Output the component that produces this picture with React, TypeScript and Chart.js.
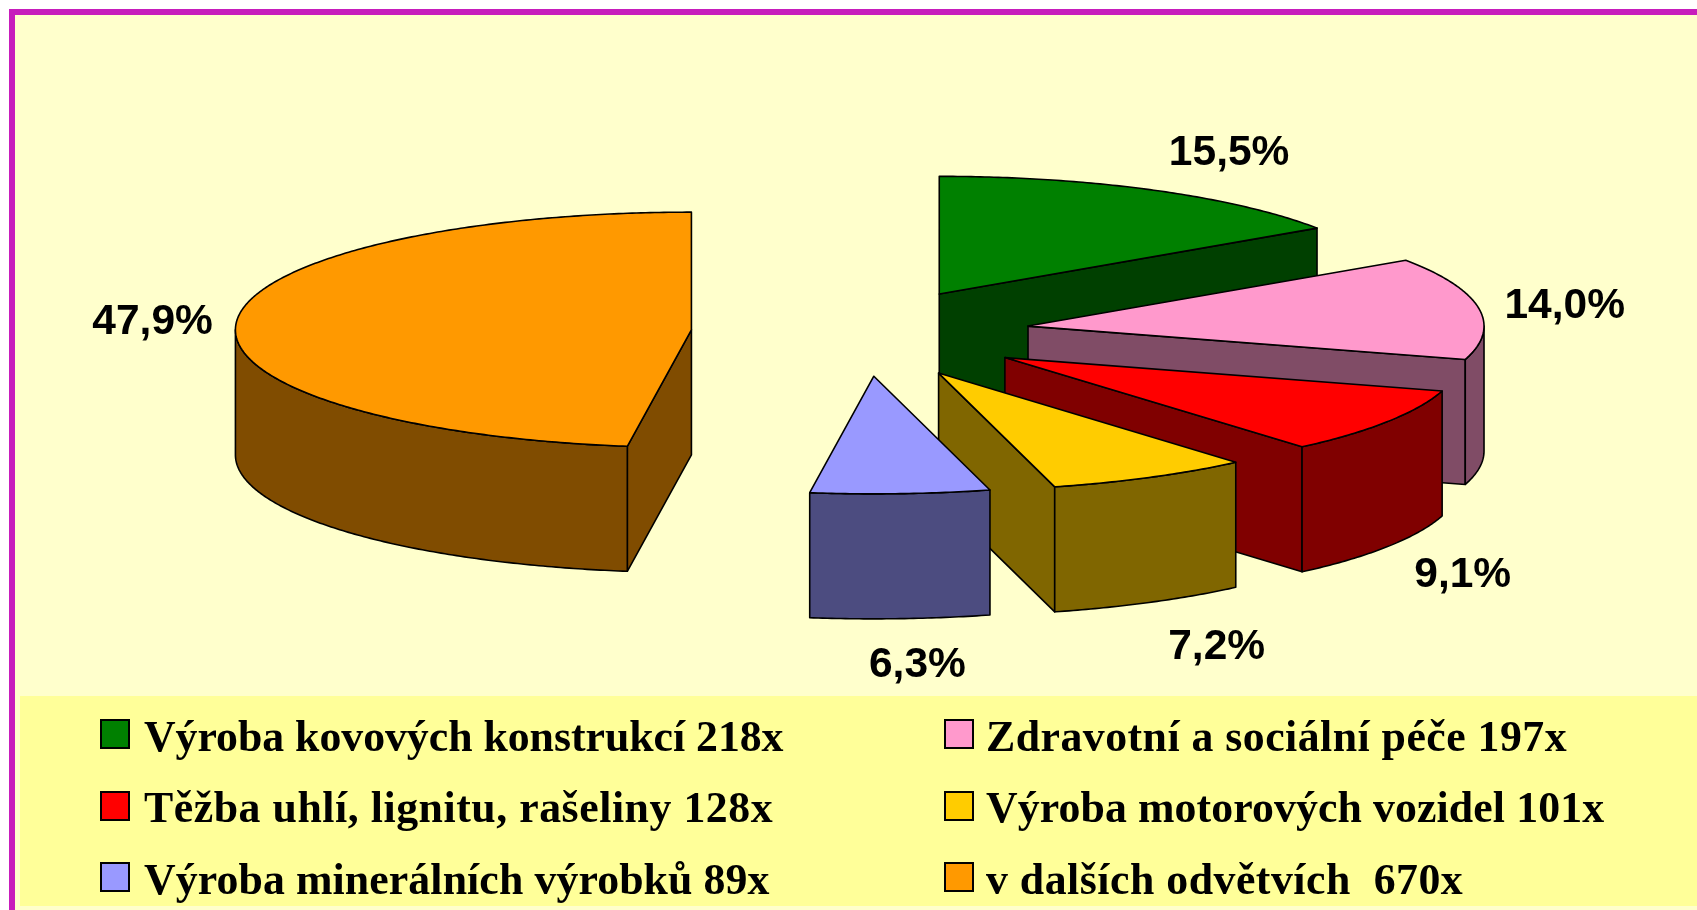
import React, { useEffect, useRef } from "react";
import { Chart, registerables } from "chart.js";

Chart.register(...registerables);

const categories = [
  "Výroba kovových konstrukcí",
  "Zdravotní a sociální péče",
  "Těžba uhlí, lignitu, rašeliny",
  "Výroba motorových vozidel",
  "Výroba minerálních výrobků",
  "v dalších odvětvích ",
];
const counts = [218, 197, 128, 101, 89, 670];
const shares = [15.5, 14.0, 9.1, 7.2, 6.3, 47.9];
const topColors = ["#008000", "#FF99CC", "#FF0000", "#FFCC00", "#9999FF", "#FF9900"];
const sideColors = ["#004000", "#804C66", "#800000", "#806600", "#4C4C80", "#804C00"];
const labelShifts = [
  [76, -35],
  [87, -2],
  [78, 153],
  [66, 169],
  [21, 169],
  [-84, 1],
];
const explodeNudgeX = [0, 1, 3, 0, 4, 0];
const explodeNudgeY = [1, 0, 0, 0, -2, 0];
const legendSpacing = [-0.03, 0.47, 0.54, 0.1, 0.1, 0.5];
const legendRise = [0, 0, 1, 1, 0, 0];

const RADIUS = 456;
const EXPLODE = 169;
const TILT = 0.258;
const EXPLODE_TILT = 0.268;
const DEPTH = 125;
const STEP = 0.01;

const pie3d = {
  id: "pie3d",
  beforeDatasetsDraw(chart: any) {
    const { ctx } = chart;
    const arcs = chart.getDatasetMeta(0).data;
    ctx.save();
    ctx.lineWidth = 1.6;
    ctx.lineJoin = "round";
    ctx.strokeStyle = "#000";

    arcs.forEach((arc: any, i: number) => {
      const { x, y, startAngle: s, endAngle: e, outerRadius: r } = arc;
      const mid = (s + e) / 2;
      const ox = Math.cos(mid) * EXPLODE + explodeNudgeX[i];
      const oy = Math.sin(mid) * EXPLODE * EXPLODE_TILT + explodeNudgeY[i];
      const pt = (a: number, rad: number, z: number) => [
        x + ox + rad * Math.cos(a),
        y + oy + TILT * rad * Math.sin(a) + z,
      ];
      const poly = (pts: number[][], fill?: string) => {
        ctx.beginPath();
        pts.forEach((p, n) => (n ? ctx.lineTo(p[0], p[1]) : ctx.moveTo(p[0], p[1])));
        ctx.closePath();
        if (fill) {
          ctx.fillStyle = fill;
          ctx.fill();
        }
        ctx.stroke();
      };
      const radial = (a: number) =>
        poly([pt(a, 0, 0), pt(a, r, 0), pt(a, r, DEPTH), pt(a, 0, DEPTH)], sideColors[i]);

      if (-Math.cos(s) > 1e-6) radial(s);
      if (Math.cos(e) > 1e-6) radial(e);

      const from = Math.max(s, 0);
      const to = Math.min(e, Math.PI);
      if (to > from) {
        const upper: number[][] = [];
        const lower: number[][] = [];
        for (let a = from; a < to; a += STEP) {
          upper.push(pt(a, r, 0));
          lower.unshift(pt(a, r, DEPTH));
        }
        upper.push(pt(to, r, 0));
        lower.unshift(pt(to, r, DEPTH));
        poly([...upper, ...lower], sideColors[i]);
      }

      ctx.save();
      ctx.translate(x + ox, y + oy);
      ctx.scale(1, TILT);
      ctx.translate(-x, -y);
      arc.draw(ctx);
      ctx.restore();

      const outline: number[][] = [pt(s, 0, 0)];
      for (let a = s; a < e; a += STEP) outline.push(pt(a, r, 0));
      outline.push(pt(e, r, 0));
      poly(outline);
    });

    ctx.fillStyle = "#000";
    ctx.font = 'bold 42.5px "Liberation Sans"';
    ctx.textAlign = "center";
    ctx.textBaseline = "middle";
    arcs.forEach((arc: any, i: number) => {
      const mid = (arc.startAngle + arc.endAngle) / 2;
      const reach = arc.outerRadius + EXPLODE;
      const lx = arc.x + reach * Math.cos(mid) + labelShifts[i][0];
      const ly = arc.y + 0.262 * reach * Math.sin(mid) + labelShifts[i][1];
      ctx.fillText(shares[i].toFixed(1).replace(".", ",") + "%", lx, ly);
    });
    ctx.restore();
    return false;
  },
};

const legendRows = [734, 806, 877];
const legendCols = [100, 944];
const legendGaps = [14, 12];

export default function App() {
  const ref = useRef<HTMLCanvasElement>(null);
  useEffect(() => {
    document.body.style.margin = "0";
    document.body.style.overflow = "hidden";
    const chart = new Chart(ref.current as HTMLCanvasElement, {
      type: "pie",
      data: {
        labels: categories,
        datasets: [
          {
            data: counts,
            backgroundColor: topColors,
            borderWidth: 0,
          },
        ],
      },
      options: {
        responsive: false,
        animation: false,
        radius: RADIUS,
        layout: { padding: { left: 23, bottom: 244 } },
        plugins: {
          legend: { display: false },
          title: { display: false },
          tooltip: { enabled: false },
        },
      },
      plugins: [pie3d],
    } as any);
    return () => chart.destroy();
  }, []);

  return (
    <div style={{ position: "relative", width: 1697, height: 910, overflow: "hidden", background: "#fff" }}>
      <div
        style={{
          position: "absolute",
          left: 9,
          top: 9,
          width: 1800,
          height: 1000,
          boxSizing: "border-box",
          borderLeft: "6px solid #C71DBC",
          borderTop: "6px solid #C71DBC",
          background: "#FFFFCC",
        }}
      />
      <div style={{ position: "absolute", left: 20, top: 696, width: 1677, height: 210, background: "#FFFF99" }} />
      <canvas ref={ref} width={1697} height={910} style={{ position: "absolute", left: 0, top: 0, display: "block" }} />
      {categories.map((c, i) => {
        const col = i % 2;
        const cy = legendRows[Math.floor(i / 2)];
        return (
          <div key={c} style={{ position: "absolute", left: legendCols[col], top: cy - 15, display: "flex", alignItems: "center", height: 30 }}>
            <span
              style={{
                display: "block",
                boxSizing: "border-box",
                width: 30,
                height: 30,
                background: topColors[i],
                border: "2px solid #000",
              }}
            />
            <span
              style={{
                marginLeft: legendGaps[col],
                position: "relative",
                top: 2 - legendRise[i],
                whiteSpace: "pre",
                fontFamily: '"Liberation Serif"',
                fontWeight: "bold",
                fontSize: 43.8,
                letterSpacing: legendSpacing[i],
                lineHeight: "30px",
                color: "#000",
              }}
            >
              {c + " " + counts[i] + "x"}
            </span>
          </div>
        );
      })}
    </div>
  );
}
